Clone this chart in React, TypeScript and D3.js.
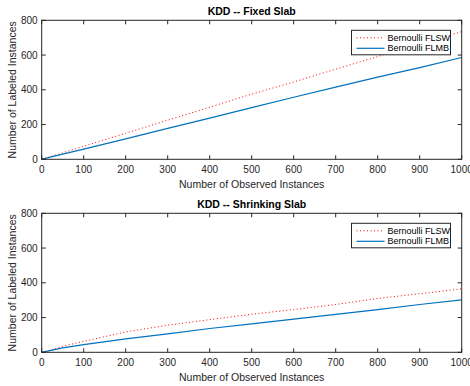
import React from 'react';
import * as d3 from 'd3';

// observed instances (x) and the two series for each panel
const observed = [0, 25, 50, 100, 200, 300, 400, 500, 600, 700, 800, 900, 1000];

const fixedFLSW = [0, 18, 37, 75, 150, 225, 300, 375, 445, 519, 591, 665, 735];
const fixedFLMB = [0, 15, 30, 59, 118, 178, 237, 297, 357, 415, 473, 528, 586];

const shrinkFLSW = [0, 15, 35, 63, 117, 156, 188, 219, 246, 275, 310, 337, 365];
const shrinkFLMB = [0, 13, 25, 44, 77, 106, 137, 164, 191, 218, 246, 275, 302];

const xTicks = [0, 100, 200, 300, 400, 500, 600, 700, 800, 900, 1000];
const yTicks = [0, 200, 400, 600, 800];
const seriesNames = ['Bernoulli FLSW', 'Bernoulli FLMB'];

const width = 470;
const height = 386;
const marginLeft = 41.7;
const marginRight = 8.3;
const axisColor = '#262626';
const font = '"Liberation Sans", Arial, Helvetica, sans-serif';

interface PanelProps {
  title: string;
  top: number; // y of the top edge of the axes
  flsw: number[];
  flmb: number[];
}

const Panel: React.FC<PanelProps> = ({ title, top, flsw, flmb }) => {
  const plotH = 139;
  const x = d3.scaleLinear().domain([0, 1000]).range([marginLeft, width - marginRight]);
  const y = d3.scaleLinear().domain([0, 800]).range([top + plotH, top]);

  const line = d3.line<[number, number]>()
    .x((d) => x(d[0]))
    .y((d) => y(d[1]));

  const redPath = line(observed.map((o, i) => [o, flsw[i]] as [number, number])) || '';
  const bluePath = line(observed.map((o, i) => [o, flmb[i]] as [number, number])) || '';

  const x0 = x(0);
  const x1 = x(1000);
  const y0 = y(0);
  const y1 = y(800);
  const tick = 4;

  // legend box
  const lx = 351.5;
  const ly = top + 10;
  const lw = 99;
  const lh = 24.5;

  return (
    <g>
      <text x={(x0 + x1) / 2} y={top - 5.5} textAnchor="middle" fontFamily={font}
        fontWeight="bold" fontSize={10.5} fill="#000">{title}</text>

      <path d={redPath} fill="none" stroke="#ff0000" strokeWidth={1} strokeDasharray="1,2.5" />
      <path d={bluePath} fill="none" stroke="#0072bd" strokeWidth={1.2} />

      {/* box */}
      <rect x={x0} y={y1} width={x1 - x0} height={y0 - y1} fill="none" stroke={axisColor} strokeWidth={1} />

      {xTicks.map((t) => (
        <g key={'x' + t}>
          <line x1={x(t)} x2={x(t)} y1={y0} y2={y0 - tick} stroke={axisColor} />
          <line x1={x(t)} x2={x(t)} y1={y1} y2={y1 + tick} stroke={axisColor} />
          <text x={x(t)} y={y0 + 13.5} textAnchor="middle" fontFamily={font} fontSize={10}
            fill={axisColor}>{t}</text>
        </g>
      ))}
      {yTicks.map((t) => (
        <g key={'y' + t}>
          <line x1={x0} x2={x0 + tick} y1={y(t)} y2={y(t)} stroke={axisColor} />
          <line x1={x1} x2={x1 - tick} y1={y(t)} y2={y(t)} stroke={axisColor} />
          <text x={x0 - 4} y={y(t) + 3.5} textAnchor="end" fontFamily={font} fontSize={10}
            fill={axisColor}>{t}</text>
        </g>
      ))}

      <text x={(x0 + x1) / 2} y={y0 + 28.5} textAnchor="middle" fontFamily={font} fontSize={10.5}
        fill={axisColor}>Number of Observed Instances</text>
      <text transform={`translate(15.5,${(y0 + y1) / 2}) rotate(-90)`} textAnchor="middle"
        fontFamily={font} fontSize={10.5} fill={axisColor}>Number of Labeled Instances</text>

      {/* legend */}
      <rect x={lx} y={ly} width={lw} height={lh} fill="#fff" stroke={axisColor} strokeWidth={1} />
      {seriesNames.map((name, i) => {
        const ry = ly + 7.5 + i * 10.5;
        return (
          <g key={name}>
            <line x1={lx + 5} x2={lx + 33} y1={ry} y2={ry}
              stroke={i === 0 ? '#ff0000' : '#0072bd'} strokeWidth={i === 0 ? 1 : 1.2}
              strokeDasharray={i === 0 ? '1,2.5' : undefined} />
            <text x={lx + 36} y={ry + 3} fontFamily={font} fontSize={9} fill="#000">{name}</text>
          </g>
        );
      })}
    </g>
  );
};

const App: React.FC = () => {
  return (
    <div style={{ position: 'absolute', left: 0, top: 0 }}>
      <svg width={width} height={height} style={{ display: 'block', background: '#fff' }}>
        <rect x={0} y={0} width={width} height={height} fill="#fff" />
        <Panel title="KDD -- Fixed Slab" top={20.3} flsw={fixedFLSW} flmb={fixedFLMB} />
        <Panel title="KDD -- Shrinking Slab" top={213.3} flsw={shrinkFLSW} flmb={shrinkFLMB} />
      </svg>
    </div>
  );
};

export default App;
